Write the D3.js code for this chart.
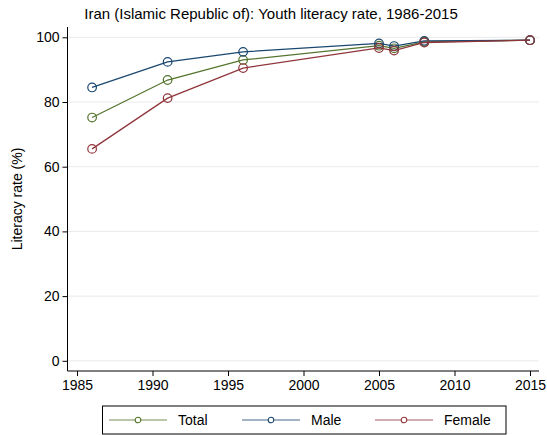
<!DOCTYPE html>
<html>
<head>
<meta charset="utf-8">
<script src="https://cdn.jsdelivr.net/npm/d3@7"></script>
<style>
  body { margin: 0; background: #fff; }
  text { font-family: "Liberation Sans", Arial, sans-serif; fill: #000; }
</style>
</head>
<body>
<script>
'use strict';

// data
const years = [1986, 1991, 1996, 2005, 2006, 2008, 2015]
const total = [75.2, 86.8, 93.0, 97.4, 96.6, 98.6, 99.1]
const male = [84.5, 92.4, 95.5, 98.1, 97.3, 98.9, 99.1]
const female = [65.5, 81.2, 90.5, 96.7, 95.9, 98.4, 99.1]
const seriesNames = ["Total", "Male", "Female"]
const xTicks = [1985, 1990, 1995, 2000, 2005, 2010, 2015]
const yTicks = [0, 20, 40, 60, 80, 100]
const title = "Iran (Islamic Republic of): Youth literacy rate, 1986-2015"
const yLabel = "Literacy rate (%)"

const colors = {
  "Total": "#55752f",
  "Male": "#1a476f",
  "Female": "#90353b"
}

const m = {
  width: 547,
  height: 435,
  left: 67.5,
  right: 539,
  top: 27,
  bottom: 371
}

const svg = d3.select('body')
  .append('svg')
  .attr('width', m.width)
  .attr('height', m.height)

const xScale = d3.scaleLinear()
  .domain([1985, 2015])
  .range([77, 530])

const yScale = d3.scaleLinear()
  .domain([0, 100])
  .range([360.8, 37.3])

// grid lines
svg.append('g')
  .selectAll('line')
  .data(yTicks)
  .enter().append('line')
    .attr('x1', m.left)
    .attr('x2', m.right)
    .attr('y1', d => yScale(d))
    .attr('y2', d => yScale(d))
    .style('stroke', '#eaeaea')
    .style('stroke-width', 1)

// axes
const yAxis = d3.axisLeft(yScale).tickValues(yTicks).tickSize(5).tickPadding(3)
svg.append('g')
  .attr('transform', 'translate(' + m.left + ', 0)')
  .style('font-size', '14px')
  .call(yAxis)
  .call(g => g.select('.domain').attr('d', 'M0,' + m.top + 'V' + m.bottom))

const xAxis = d3.axisBottom(xScale).tickValues(xTicks).tickFormat(d3.format('d')).tickSize(5).tickPadding(4)
svg.append('g')
  .attr('transform', 'translate(0, ' + m.bottom + ')')
  .style('font-size', '14px')
  .call(xAxis)
  .call(g => g.select('.domain').attr('d', 'M' + m.left + ',0H' + m.right))

svg.selectAll('.domain, .tick line')
  .style('stroke', '#000')
  .style('stroke-width', 1)
svg.selectAll('.tick text').style('font-family', '"Liberation Sans", Arial, sans-serif')

// title and axis label
svg.append('text')
  .attr('x', 271)
  .attr('y', 19)
  .attr('text-anchor', 'middle')
  .style('font-size', '15px')
  .text(title)

svg.append('text')
  .attr('transform', 'translate(22, 199)rotate(-90)')
  .attr('text-anchor', 'middle')
  .style('font-size', '14px')
  .text(yLabel)

// lines and markers
const allSeries = [
  { name: "Total", values: total },
  { name: "Male", values: male },
  { name: "Female", values: female }
]

const line = d3.line()
  .x(d => xScale(d.year))
  .y(d => yScale(d.value))

allSeries.forEach(s => {
  const pts = years.map((y, i) => ({ year: y, value: s.values[i] }))
  svg.append('path')
    .datum(pts)
    .attr('d', line)
    .style('fill', 'none')
    .style('stroke', colors[s.name])
    .style('stroke-width', 1.3)
  svg.append('g')
    .selectAll('circle')
    .data(pts)
    .enter().append('circle')
      .attr('cx', d => xScale(d.year))
      .attr('cy', d => yScale(d.value))
      .attr('r', 4.3)
      .style('fill', 'none')
      .style('stroke', colors[s.name])
      .style('stroke-width', 1.2)
})

// legend
svg.append('rect')
  .attr('x', 102.5)
  .attr('y', 406)
  .attr('width', 403.5)
  .attr('height', 28)
  .style('fill', '#fff')
  .style('stroke', '#000')
  .style('stroke-width', 1)

const legendX = [109, 242, 375]
const legend = svg.selectAll('.legend')
  .data(seriesNames)
  .enter().append('g')
    .attr('class', 'legend')
    .attr('transform', (d, i) => 'translate(' + legendX[i] + ', 420)')

legend.append('line')
  .attr('x1', 0)
  .attr('x2', 58)
  .style('stroke', d => colors[d])
  .style('stroke-width', 1.2)
  .style('opacity', 0.8)

legend.append('circle')
  .attr('cx', 29)
  .attr('r', 2.8)
  .style('fill', '#fff')
  .style('stroke', d => colors[d])
  .style('stroke-width', 1.1)

legend.append('text')
  .attr('x', 69)
  .attr('dy', '0.36em')
  .style('font-size', '14px')
  .text(d => d)
</script>
</body>
</html>
